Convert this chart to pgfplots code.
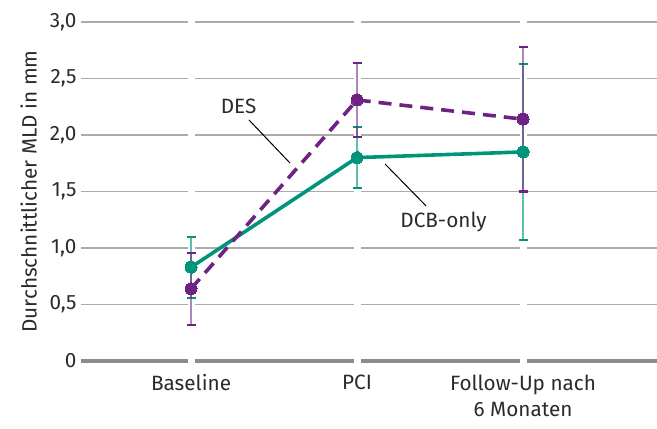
\documentclass[border=0pt]{standalone}
\usepackage{pgfplots}
\pgfplotsset{compat=1.18}
\usepackage{fontspec}
\setmainfont{Fira Sans}
\definecolor{cgreen}{HTML}{00957A}
\definecolor{cgreenl}{HTML}{5CC0AC}
\definecolor{cpurp}{HTML}{6E2382}
\definecolor{cpurpl}{HTML}{A877B5}
\definecolor{gridc}{HTML}{ABABAB}
\definecolor{zeroc}{HTML}{8C8C8C}
\definecolor{txt}{HTML}{2A2A2A}
\begin{document}
\begin{tikzpicture}
\begin{axis}[
  name=ax,
  scale only axis,
  width=576bp, height=339bp,
  xmin=-0.663, xmax=2.807,
  ymin=0, ymax=3,
  clip=false,
  axis line style={draw=none},
  major tick length=0pt,
  xtick={0,1,2},
  xticklabels={Baseline,PCI,{Follow-Up nach\\6 Monaten}},
  xticklabel style={align=center, text=txt, yshift=-10bp, font=\fontsize{20.8}{27}\selectfont},
  ytick={0,0.5,1,1.5,2,2.5,3},
  yticklabels={0,{0,5},{1,0},{1,5},{2,0},{2,5},{3,0}},
  yticklabel style={text=txt, xshift=-1bp, font=\fontsize{20.8}{27}\selectfont},
  ylabel={Durchschnittlicher MLD in mm},
  ylabel style={text=txt, yshift=6bp, font=\fontsize{20.8}{27}\selectfont},
  /pgf/number format/assume math mode=true,
]
% grid
\foreach \yy in {0.5,1,1.5,2,2.5,3}{
  \edef\tmp{\noexpand\draw[gridc, line width=1.3bp] (axis cs:-0.663,\yy) -- (axis cs:2.807,\yy);}
  \tmp
}
\draw[zeroc, line width=4bp] (axis cs:-0.663,0) -- (axis cs:2.807,0);
% gaps
\foreach \xx in {0,1,2}{
  \edef\tmp{\noexpand\draw[white, line width=7bp] (axis cs:\xx,-0.05) -- (axis cs:\xx,3.05);}
  \tmp
}
% error bars DCB-only
\addplot[draw=none, forget plot,
  error bars/.cd, y dir=both, y explicit,
  error bar style={cgreenl, line width=1.3bp},
  error mark options={rotate=90, mark size=4.5bp, line width=2bp, cgreen}]
  coordinates {(0,0.83) +- (0,0.27) (1,1.80) +- (0,0.27) (2,1.85) +- (0,0.78)};
% error bars DES
\addplot[draw=none, forget plot,
  error bars/.cd, y dir=both, y explicit,
  error bar style={cpurp, draw opacity=0.55, line width=1.3bp},
  error mark options={rotate=90, mark size=4.5bp, line width=2bp, cpurp, draw opacity=1}]
  coordinates {(0,0.64) +- (0,0.32) (1,2.31) +- (0,0.33) (2,2.14) +- (0,0.64)};
% DCB-only line
\addplot[cgreen, line width=3.6bp, mark=*, mark size=6bp, mark options={solid, fill=cgreen, draw=cgreen, line width=0pt}]
  coordinates {(0,0.83) (1,1.80) (2,1.85)};
% DES line
\addplot[cpurp, line width=3.6bp, dash pattern=on 13bp off 8bp, mark=*, mark size=6bp, mark options={solid, fill=cpurp, draw=cpurp, line width=0pt}]
  coordinates {(0,0.64) (1,2.31) (2,2.14)};
% annotations
\draw[black, line width=1bp] (axis cs:0.349,2.133) -- (axis cs:0.596,1.752);
\node[text=txt, font=\fontsize{20.8}{25}\selectfont] at (axis cs:0.286,2.257) {DES};
\draw[black, line width=1bp] (axis cs:1.169,1.743) -- (axis cs:1.416,1.372);
\node[text=txt, font=\fontsize{20.8}{25}\selectfont] at (axis cs:1.521,1.230) {DCB-only};
\end{axis}
\pgfresetboundingbox
\path (ax.south west) ++(-81bp,-68bp) rectangle ++(657bp,429bp);
\end{tikzpicture}
\end{document}
